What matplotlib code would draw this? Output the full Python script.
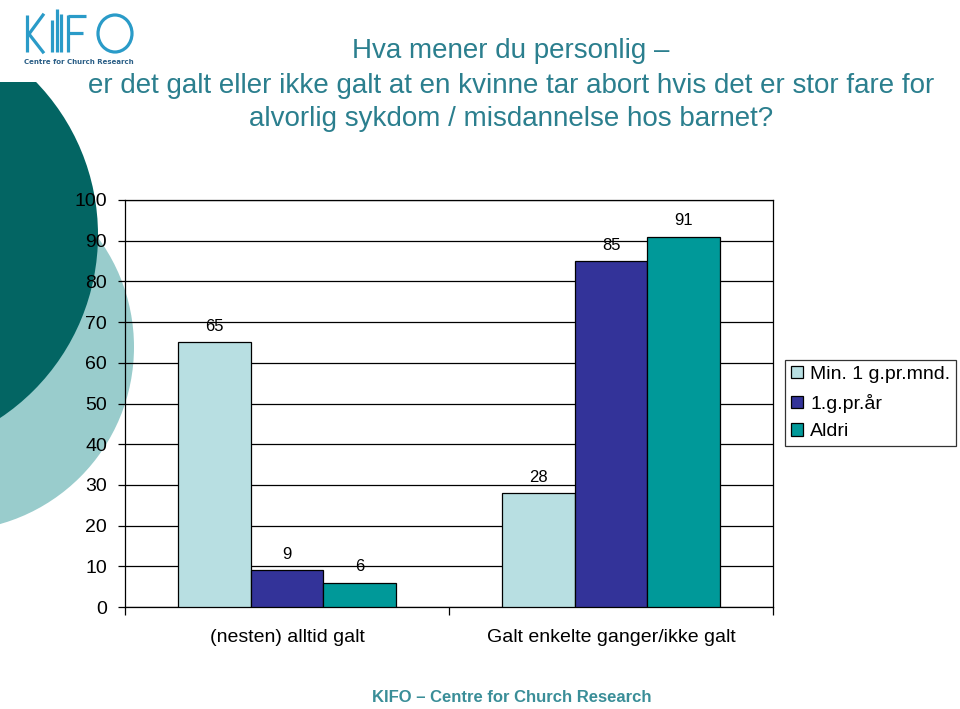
import matplotlib
matplotlib.use("Agg")
import matplotlib.pyplot as plt
import numpy as np
from matplotlib.patches import Circle, Rectangle, Ellipse

plt.rcParams['font.family'] = ['Liberation Sans', 'DejaVu Sans']

categories = ["(nesten) alltid galt", "Galt enkelte ganger/ikke galt"]
series_names = ["Min. 1 g.pr.mnd.", "1.g.pr.år", "Aldri"]
series_values = [
    [65, 28],
    [9, 85],
    [6, 91],
]
series_colors = ["#B8DFE2", "#333399", "#009999"]
yticks = [0, 10, 20, 30, 40, 50, 60, 70, 80, 90, 100]
title_lines = [
    "Hva mener du personlig –",
    "er det galt eller ikke galt at en kvinne tar abort hvis det er stor fare for",
    "alvorlig sykdom / misdannelse hos barnet?",
]
footer = "KIFO – Centre for Church Research"

W, H = 960, 709
fig = plt.figure(figsize=(W / 100, H / 100), dpi=100)

# background decoration axes in pixel coordinates
bg = fig.add_axes([0, 0, 1, 1], zorder=0)
bg.set_xlim(0, W)
bg.set_ylim(H, 0)
bg.axis('off')
bg.add_patch(Circle((-50, 347), 184, color="#99CCCC", lw=0))
bg.add_patch(Circle((-122, 235), 220, color="#036563", lw=0))
bg.add_patch(Rectangle((0, 0), 145, 82, color="white", lw=0))

# logo
logo_c = "#2A9BC8"
lw = 2.3
bg.plot([27, 27], [15, 52], color=logo_c, lw=lw, solid_capstyle='butt')
bg.plot([29, 43], [34, 15], color=logo_c, lw=lw)
bg.plot([29, 43], [34, 52], color=logo_c, lw=lw)
bg.plot([52, 52], [20, 52], color=logo_c, lw=lw, solid_capstyle='butt')
bg.plot([56.5, 56.5], [9, 52], color=logo_c, lw=lw, solid_capstyle='butt')
bg.plot([61, 61], [14, 52], color=logo_c, lw=lw, solid_capstyle='butt')
bg.plot([68, 68], [15, 52], color=logo_c, lw=lw, solid_capstyle='butt')
bg.plot([68, 86], [16, 16], color=logo_c, lw=lw, solid_capstyle='butt')
bg.plot([68, 83], [33, 33], color=logo_c, lw=lw, solid_capstyle='butt')
bg.add_patch(Ellipse((115, 33.5), 34, 37, fill=False, ec=logo_c, lw=lw))
bg.text(79, 62, "Centre for Church Research", fontsize=5.0, fontweight='bold',
        color="#2A5E86", ha='center', va='center', family=['DejaVu Sans'])

# title
title_c = "#2B7F8E"
for txt, y in zip(title_lines, [51, 86, 119]):
    bg.text(511, y, txt, fontsize=20, color=title_c, ha='center', va='center')

bg.text(512, 698, footer, fontsize=12, fontweight='bold', color="#3A8E98",
        ha='center', va='center')

# main chart
left, right, top, bottom = 125, 773, 200, 607
ax = fig.add_axes([left / W, 1 - bottom / H, (right - left) / W, (bottom - top) / H], zorder=1)
ax.set_facecolor('none')

x = np.arange(len(categories))
bw = 0.2235
offsets = [-bw, 0, bw]
for vals, name, col, off in zip(series_values, series_names, series_colors, offsets):
    bars = ax.bar(x + off, vals, bw, color=col, edgecolor='black', linewidth=0.9,
                  label=name, zorder=3)
    for b, v in zip(bars, vals):
        ax.annotate(str(v), (b.get_x() + b.get_width() / 2, v), xytext=(0, 6),
                    textcoords='offset points', ha='center', va='bottom', fontsize=12)

ax.set_xlim(-0.5, 1.5)
ax.set_ylim(0, 100)
ax.set_yticks(yticks)
ax.set_yticklabels([str(t) for t in yticks], fontsize=14)
ax.yaxis.grid(True, color='black', lw=0.9, zorder=0)
ax.set_axisbelow(True)
ax.tick_params(axis='y', length=5, width=0.9, pad=8)

ax.set_xticks([-0.5, 0.5, 1.5])
ax.set_xticklabels([])
ax.set_xticks(x, minor=True)
ax.set_xticklabels(categories, minor=True, fontsize=14)
ax.tick_params(axis='x', which='major', length=6, width=0.9)
ax.tick_params(axis='x', which='minor', length=0, pad=16)
for s in ax.spines.values():
    s.set_linewidth(0.9)
    s.set_color('black')

leg = ax.legend(loc='upper left', bbox_to_anchor=(785 / W, 1 - 360 / H),
                bbox_transform=fig.transFigure, fontsize=14, frameon=True,
                fancybox=False, edgecolor='black', handlelength=0.6,
                handleheight=0.6, handletextpad=0.4, borderpad=0.3,
                labelspacing=0.55, borderaxespad=0)
leg.get_frame().set_linewidth(0.9)

fig.savefig("out.png", dpi=100)
